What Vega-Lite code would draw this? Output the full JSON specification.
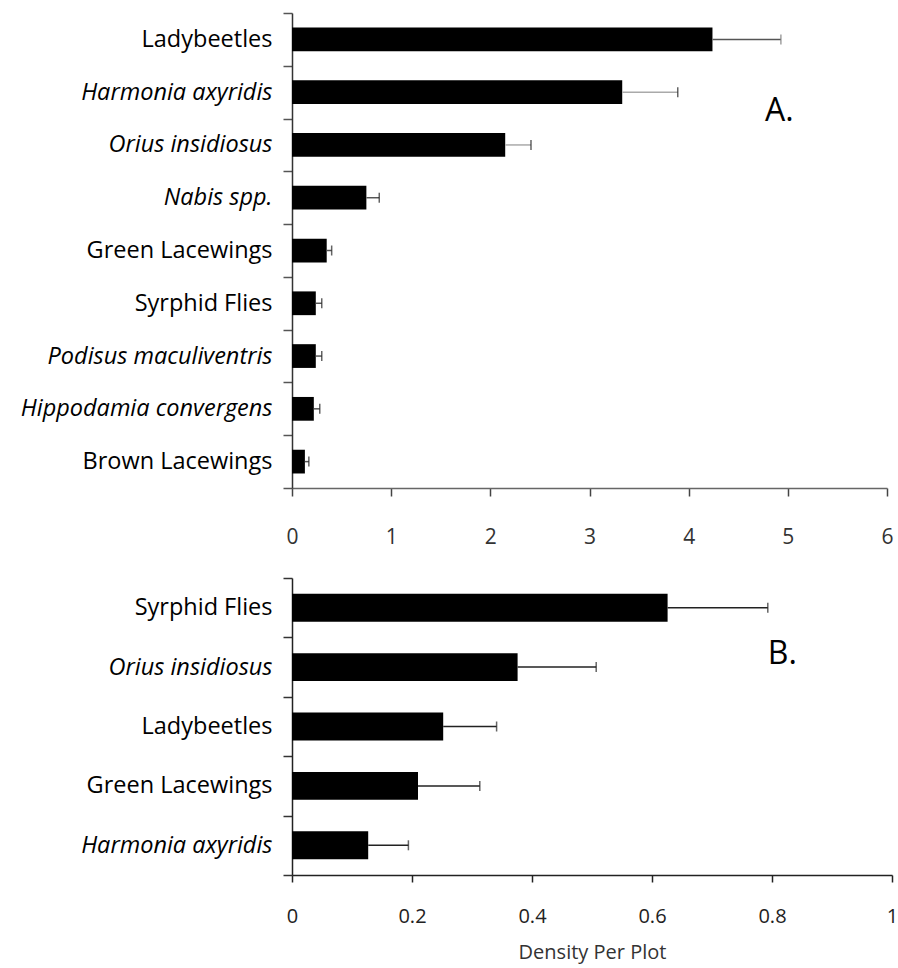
{
  "$schema": "https://vega.github.io/schema/vega-lite/v6.json",
  "padding": {"left": 5, "top": 1, "right": 5, "bottom": 5},
  "config": {"font": "Open Sans", "view": {"stroke": null}, "concat": {"spacing": 18}},
  "datasets": {
    "a": [
      {"taxon": "Ladybeetles", "mean": 4.24, "upper": 4.93},
      {"taxon": "Harmonia axyridis", "mean": 3.33, "upper": 3.89},
      {"taxon": "Orius insidiosus", "mean": 2.15, "upper": 2.41},
      {"taxon": "Nabis spp.", "mean": 0.75, "upper": 0.88},
      {"taxon": "Green Lacewings", "mean": 0.35, "upper": 0.40},
      {"taxon": "Syrphid Flies", "mean": 0.24, "upper": 0.30},
      {"taxon": "Podisus maculiventris", "mean": 0.24, "upper": 0.30},
      {"taxon": "Hippodamia convergens", "mean": 0.22, "upper": 0.28},
      {"taxon": "Brown Lacewings", "mean": 0.13, "upper": 0.17}
    ],
    "b": [
      {"taxon": "Syrphid Flies", "mean": 0.626, "upper": 0.793},
      {"taxon": "Orius insidiosus", "mean": 0.376, "upper": 0.507},
      {"taxon": "Ladybeetles", "mean": 0.252, "upper": 0.341},
      {"taxon": "Green Lacewings", "mean": 0.21, "upper": 0.313},
      {"taxon": "Harmonia axyridis", "mean": 0.127, "upper": 0.194}
    ],
    "alabel": [{"taxon": "Harmonia axyridis", "x": 4.77, "label": "A."}],
    "blabel": [{"taxon": "Orius insidiosus", "x": 0.793, "label": "B."}]
  },
  "vconcat": [
    {
      "width": 595,
      "height": 475,
      "layer": [
        {
          "data": {"name": "a"},
          "mark": {"type": "bar", "color": "black", "height": {"band": 0.45}},
          "encoding": {
            "y": {
              "field": "taxon", "type": "nominal", "sort": null,
              "scale": {"paddingInner": 0, "paddingOuter": 0},
              "axis": {
                "title": null, "tickBand": "extent", "tickSize": 9, "labelPadding": 11,
                "labelFontSize": 23.5, "labelColor": "black", "domainColor": "#333", "tickColor": "#555",
                "domainWidth": 1.5, "tickWidth": 1.5, "minExtent": 287, "maxExtent": 287, "labelLimit": 300,
                "labelFontStyle": {
                  "condition": {"test": "indexof(['Harmonia axyridis','Orius insidiosus','Nabis spp.','Podisus maculiventris','Hippodamia convergens'], datum.value) >= 0", "value": "italic"},
                  "value": "normal"
                }
              }
            },
            "x": {
              "field": "mean", "type": "quantitative",
              "scale": {"domain": [0, 6], "nice": false},
              "axis": {
                "title": null, "values": [0, 1, 2, 3, 4, 5, 6], "format": "~g", "grid": false, "tickSize": 8, "labelPadding": 30,
                "labelFontSize": 21, "labelColor": "#333", "domainColor": "#666", "tickColor": "#444",
                "domainWidth": 1.5, "tickWidth": 1.5, "labelFlush": false, "minExtent": 60, "maxExtent": 60
              }
            }
          }
        },
        {
          "data": {"name": "a"},
          "mark": {"type": "rule", "strokeWidth": 1.5},
          "encoding": {
            "y": {"field": "taxon", "type": "nominal", "sort": null},
            "x": {"field": "mean", "type": "quantitative"},
            "x2": {"field": "upper"},
            "color": {"condition": {"test": "datum.taxon === 'Harmonia axyridis' || datum.taxon === 'Orius insidiosus'", "value": "#aaa"}, "value": "#555"}
          }
        },
        {
          "data": {"name": "a"},
          "mark": {"type": "tick", "size": 10, "thickness": 1.5, "orient": "vertical"},
          "encoding": {
            "y": {"field": "taxon", "type": "nominal", "sort": null},
            "x": {"field": "upper", "type": "quantitative"},
            "color": {"condition": {"test": "datum.taxon === 'Ladybeetles'", "value": "#777"}, "value": "#222"}
          }
        },
        {
          "data": {"name": "alabel"},
          "mark": {"type": "text", "fontSize": 32, "align": "left", "baseline": "middle", "dy": 19, "color": "black"},
          "encoding": {
            "y": {"field": "taxon", "type": "nominal", "sort": null},
            "x": {"field": "x", "type": "quantitative"},
            "text": {"field": "label"}
          }
        }
      ]
    },
    {
      "width": 600,
      "height": 297,
      "layer": [
        {
          "data": {"name": "b"},
          "mark": {"type": "bar", "color": "black", "height": {"band": 0.47}},
          "encoding": {
            "y": {
              "field": "taxon", "type": "nominal", "sort": null,
              "scale": {"paddingInner": 0, "paddingOuter": 0},
              "axis": {
                "title": null, "tickBand": "extent", "tickSize": 9, "labelPadding": 11,
                "labelFontSize": 23.5, "labelColor": "black", "domainColor": "#222", "tickColor": "#333",
                "domainWidth": 1.5, "tickWidth": 1.5, "minExtent": 287, "maxExtent": 287, "labelLimit": 300,
                "labelFontStyle": {
                  "condition": {"test": "indexof(['Harmonia axyridis','Orius insidiosus'], datum.value) >= 0", "value": "italic"},
                  "value": "normal"
                }
              }
            },
            "x": {
              "field": "mean", "type": "quantitative",
              "scale": {"domain": [0, 1], "nice": false},
              "axis": {
                "title": "Density Per Plot", "values": [0, 0.2, 0.4, 0.6, 0.8, 1], "format": "~g", "grid": false,
                "tickSize": 7, "labelPadding": 24, "labelFontSize": 20, "labelColor": "#222",
                "domainColor": "#222", "tickColor": "#222", "domainWidth": 1.5, "tickWidth": 1.5, "labelFlush": false,
                "titleFontSize": 20, "titleFontWeight": "normal", "titleColor": "#333", "titlePadding": 16
              }
            }
          }
        },
        {
          "data": {"name": "b"},
          "mark": {"type": "rule", "color": "#222", "strokeWidth": 1.5},
          "encoding": {
            "y": {"field": "taxon", "type": "nominal", "sort": null},
            "x": {"field": "mean", "type": "quantitative"},
            "x2": {"field": "upper"}
          }
        },
        {
          "data": {"name": "b"},
          "mark": {"type": "tick", "color": "#222", "size": 10, "thickness": 1.5, "orient": "vertical"},
          "encoding": {
            "y": {"field": "taxon", "type": "nominal", "sort": null},
            "x": {"field": "upper", "type": "quantitative"}
          }
        },
        {
          "data": {"name": "blabel"},
          "mark": {"type": "text", "fontSize": 32, "align": "left", "baseline": "middle", "dy": -13, "color": "black"},
          "encoding": {
            "y": {"field": "taxon", "type": "nominal", "sort": null},
            "x": {"field": "x", "type": "quantitative"},
            "text": {"field": "label"}
          }
        }
      ]
    }
  ]
}
